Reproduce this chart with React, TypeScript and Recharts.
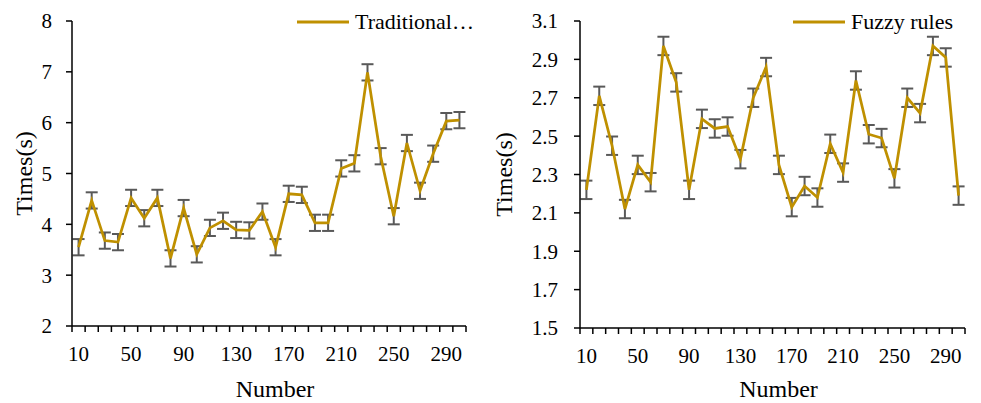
import { ErrorBar, Legend, Line, LineChart, XAxis, YAxis } from "recharts";

const numbers = [
  10, 20, 30, 40, 50, 60, 70, 80, 90, 100, 110, 120, 130, 140, 150, 160, 170, 180, 190, 200,
  210, 220, 230, 240, 250, 260, 270, 280, 290, 300,
];

const traditionalTimes = [
  3.55, 4.47, 3.68, 3.65, 4.52, 4.12, 4.52, 3.33, 4.32, 3.41, 3.93, 4.07, 3.89, 3.88, 4.25,
  3.55, 4.6, 4.58, 4.03, 4.03, 5.1, 5.2, 6.99, 5.34, 4.16, 5.6, 4.66, 5.39, 6.03, 6.05,
];
const traditionalError = [
  0.16, 0.16, 0.16, 0.16, 0.16, 0.16, 0.16, 0.16, 0.16, 0.16, 0.16, 0.16, 0.16, 0.16, 0.16,
  0.16, 0.16, 0.16, 0.16, 0.16, 0.16, 0.16, 0.16, 0.16, 0.16, 0.16, 0.16, 0.16, 0.16, 0.16,
];

const fuzzyTimes = [
  2.22, 2.71, 2.45, 2.12, 2.35, 2.26, 2.97, 2.78, 2.22, 2.59, 2.54, 2.55, 2.38, 2.7, 2.86,
  2.35, 2.13, 2.24, 2.18, 2.46, 2.31, 2.79, 2.51, 2.49, 2.28, 2.7, 2.62, 2.97, 2.91, 2.19,
];
const fuzzyError = [
  0.048, 0.048, 0.048, 0.048, 0.048, 0.048, 0.048, 0.048, 0.048, 0.048, 0.048, 0.048, 0.048,
  0.048, 0.048, 0.048, 0.048, 0.048, 0.048, 0.048, 0.048, 0.048, 0.048, 0.048, 0.048, 0.048,
  0.048, 0.048, 0.048, 0.048,
];

const xLabelTicks = [10, 50, 90, 130, 170, 210, 250, 290];
const traditionalYTicks = [2, 3, 4, 5, 6, 7, 8];
const fuzzyYTicks = [1.5, 1.7, 1.9, 2.1, 2.3, 2.5, 2.7, 2.9, 3.1];

const FONT = '"Liberation Serif", "Times New Roman", serif';
const GOLD = "#BF9000";
const GREY = "#595959";

// Excel-style category axis: tick marks sit between categories, labels on the centres
const boundaryTicks = [...numbers.map((n) => n - 5), numbers[numbers.length - 1] + 5];
const xTicks = [...boundaryTicks, ...xLabelTicks].sort((a, b) => a - b);

function XTick({ x, y, payload }: any) {
  const v = payload.value as number;
  if (boundaryTicks.includes(v)) {
    return <line x1={x} x2={x} y1={y} y2={y + 6} stroke="#000" strokeWidth={1.5} />;
  }
  if (xLabelTicks.includes(v)) {
    return (
      <text x={x} y={y + 20} dy="0.71em" textAnchor="middle" fontFamily={FONT} fontSize={21} fill="#000">
        {v}
      </text>
    );
  }
  return <g />;
}

function Panel({
  name,
  values,
  errors,
  yTicks,
  digits,
  left,
  width,
  rightMargin,
  yAxisWidth,
  xAxisHeight,
  tickMargin,
  yTitleX,
  legendLeft,
}: {
  name: string;
  values: number[];
  errors: number[];
  yTicks: number[];
  digits: number;
  left: number;
  width: number;
  rightMargin: number;
  yAxisWidth: number;
  xAxisHeight: number;
  tickMargin: number;
  yTitleX: number;
  legendLeft: number;
}) {
  const data = numbers.map((n, i) => ({ n, value: values[i], err: errors[i] }));
  return (
    <div style={{ position: "absolute", left, top: 0 }}>
      <LineChart
        width={width}
        height={403}
        data={data}
        margin={{ top: 21, right: rightMargin, bottom: 0, left: 0 }}
        style={{ fontFamily: FONT }}
      >
        <XAxis
          dataKey="n"
          type="number"
          domain={[5, 305]}
          ticks={xTicks}
          interval={0}
          tickSize={0}
          tickMargin={0}
          tickLine={false}
          tick={<XTick />}
          height={xAxisHeight}
          axisLine={{ stroke: "#000", strokeWidth: 1.5 }}
          label={{
            content: ({ viewBox }: any) => (
              <text
                x={viewBox.x + viewBox.width / 2 + 6}
                y={397}
                textAnchor="middle"
                fontFamily={FONT}
                fontSize={24}
                fill="#000"
              >
                Number
              </text>
            ),
          }}
        />
        <YAxis
          type="number"
          domain={[yTicks[0], yTicks[yTicks.length - 1]]}
          ticks={yTicks}
          interval={0}
          width={yAxisWidth}
          tickSize={6}
          tickMargin={tickMargin}
          tickFormatter={(v: number) => v.toFixed(digits)}
          tick={{ fontFamily: FONT, fontSize: 21, fill: "#000" }}
          tickLine={{ stroke: "#000", strokeWidth: 1.5 }}
          axisLine={{ stroke: "#000", strokeWidth: 1.5 }}
          label={{
            content: ({ viewBox }: any) => {
              const cx = viewBox.x + yTitleX;
              const cy = viewBox.y + viewBox.height / 2;
              return (
                <text
                  x={cx}
                  y={cy}
                  transform={`rotate(-90 ${cx} ${cy})`}
                  textAnchor="middle"
                  fontFamily={FONT}
                  fontSize={24}
                  fill="#000"
                >
                  Times(s)
                </text>
              );
            },
          }}
        />
        <Legend
          layout="horizontal"
          verticalAlign="middle"
          align="center"
          wrapperStyle={{ left: legendLeft, top: 8, width: "auto" }}
          content={({ payload }: any) => (
            <div style={{ display: "flex", alignItems: "center", lineHeight: "28px" }}>
              {(payload || []).map((entry: any) => (
                <div key={entry.value} style={{ display: "flex", alignItems: "center" }}>
                  <svg width={52} height={4} style={{ marginRight: 6 }}>
                    <line x1={0} x2={52} y1={2} y2={2} stroke={entry.color} strokeWidth={3} />
                  </svg>
                  <span style={{ fontFamily: FONT, fontSize: 22, color: "#000", whiteSpace: "nowrap" }}>
                    {entry.value}
                  </span>
                </div>
              ))}
            </div>
          )}
        />
        <Line
          type="linear"
          dataKey="value"
          name={name}
          stroke={GOLD}
          strokeWidth={2.75}
          dot={false}
          activeDot={false}
          isAnimationActive={false}
        >
          <ErrorBar dataKey="err" direction="y" width={6} stroke={GREY} strokeWidth={2} isAnimationActive={false} />
        </Line>
      </LineChart>
    </div>
  );
}

export default function App() {
  return (
    <div style={{ position: "absolute", left: 0, top: 0, width: 981, height: 403, background: "#fff" }}>
      <Panel
        name="Traditional…"
        values={traditionalTimes}
        errors={traditionalError}
        yTicks={traditionalYTicks}
        digits={0}
        left={0}
        width={490}
        rightMargin={24}
        yAxisWidth={72}
        xAxisHeight={77}
        tickMargin={14}
        yTitleX={32}
        legendLeft={297}
      />
      <Panel
        name="Fuzzy rules"
        values={fuzzyTimes}
        errors={fuzzyError}
        yTicks={fuzzyYTicks}
        digits={1}
        left={490}
        width={491}
        rightMargin={16}
        yAxisWidth={90}
        xAxisHeight={75}
        tickMargin={16}
        yTitleX={22}
        legendLeft={303}
      />
    </div>
  );
}
